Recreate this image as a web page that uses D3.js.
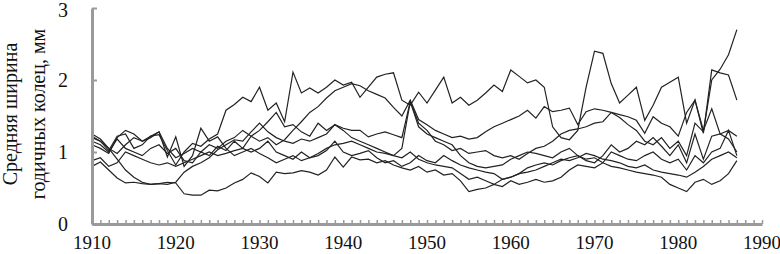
<!DOCTYPE html>
<html>
<head>
<meta charset="utf-8">
<script src="https://cdn.jsdelivr.net/npm/d3@7"></script>
<style>
  body { margin: 0; background: #fff; }
</style>
</head>
<body>
<div id="chart"></div>
<script>
const firstYear = 1910;
const xTicks = [1910, 1920, 1930, 1940, 1950, 1960, 1970, 1980, 1990];
const yTicks = [0, 1, 2, 3];
const yTitle = ['Средняя ширина', 'годичных колец, мм'];

// annual values 1910..1987, one array per site
const seriesA = [
  1.20, 1.15, 1.02, 1.22, 1.25, 1.05, 1.10, 1.22, 1.24, 1.02,
  0.82, 1.00, 1.12, 1.08, 1.18, 1.25, 1.58, 1.66, 1.76, 1.70,
  1.90, 1.58, 1.68, 1.42, 2.11, 1.82, 1.89, 1.82, 1.90, 2.00,
  1.93, 1.97, 1.76, 1.90, 2.04, 2.08, 2.10, 1.72, 1.65, 1.83,
  1.68, 1.86, 2.04, 1.68, 1.76, 1.65, 1.72, 1.82, 1.93, 1.84,
  2.14, 2.05, 1.96, 2.00, 1.90, 1.35, 1.20, 1.17, 1.30, 1.90,
  2.40, 2.37, 1.95, 1.68, 1.79, 1.90, 1.44, 1.65, 1.90, 1.97,
  2.04, 1.40, 1.72, 1.26, 2.14, 2.10, 2.07, 1.72
];
const seriesB = [
  1.25, 1.18, 1.05, 0.98, 1.10, 1.20, 1.15, 1.22, 1.28, 1.05,
  0.92, 0.98, 1.05, 1.00, 1.10, 1.05, 1.15, 1.20, 1.30, 1.22,
  1.15, 1.20, 1.10, 1.17, 1.30, 1.42, 1.55, 1.63, 1.75, 1.85,
  1.90, 1.95, 1.92, 1.85, 1.80, 1.75, 1.62, 1.50, 1.72, 1.45,
  1.38, 1.30, 1.25, 1.20, 1.22, 1.18, 1.20, 1.28, 1.35, 1.40,
  1.45, 1.50, 1.58, 1.47, 1.63, 1.56, 1.58, 1.61, 1.38, 1.56,
  1.60, 1.58, 1.55, 1.52, 1.49, 1.44, 1.26, 1.49, 1.40, 1.35,
  1.22, 1.55, 1.72, 1.30, 1.60, 1.25, 1.30, 1.22
];
const seriesC = [
  1.15, 1.10, 1.00, 1.18, 1.05, 1.00, 0.95, 1.05, 1.10, 0.98,
  1.05, 0.88, 0.85, 1.00, 0.95, 1.08, 1.02, 1.15, 1.05, 1.22,
  1.30, 1.42, 1.55, 1.35, 1.38, 1.28, 1.22, 1.40, 1.30, 1.38,
  1.33, 1.30, 1.30, 1.21, 1.25, 1.28, 1.24, 1.20, 1.70, 1.40,
  1.30, 1.15, 1.10, 1.02, 1.05, 0.98, 1.00, 1.02, 0.95, 0.92,
  0.95, 0.90, 0.98, 1.05, 1.08, 1.15, 1.25, 1.30, 1.32, 1.35,
  1.40, 1.42, 1.55, 1.48, 1.38, 1.30, 1.15, 1.10, 1.20, 1.05,
  1.15, 0.95, 1.40, 1.28, 2.00, 2.15, 2.35, 2.70
];
const seriesD = [
  0.88, 0.92, 0.80, 0.85, 1.00, 0.95, 0.90, 0.85, 0.82, 0.85,
  0.80, 0.85, 0.90, 0.95, 1.00, 0.95, 0.98, 1.02, 1.05, 1.00,
  1.05, 1.15, 1.00, 0.95, 0.90, 1.00, 0.92, 0.95, 1.02, 1.15,
  1.00, 0.95, 0.98, 1.02, 0.92, 0.85, 0.88, 0.80, 0.85, 0.95,
  0.88, 0.85, 0.95, 0.88, 0.82, 0.78, 0.75, 0.72, 0.70, 0.62,
  0.65, 0.70, 0.72, 0.75, 0.80, 0.85, 0.90, 0.88, 0.92, 0.98,
  0.95, 0.90, 0.88, 0.85, 0.80, 0.78, 0.82, 0.75, 0.72, 0.70,
  0.68, 0.65, 0.72, 0.80, 0.90, 0.95, 1.00, 0.92
];
const seriesE = [
  1.22, 1.15, 1.05, 0.90, 0.75, 0.65, 0.58, 0.55, 0.56, 0.55,
  0.58, 0.72, 0.80, 0.85, 0.92, 1.03, 1.10, 1.17, 1.15, 1.28,
  1.40, 1.28, 1.20, 1.15, 1.12, 1.18, 1.15, 1.20, 1.25, 1.38,
  1.30, 1.20, 1.15, 1.10, 1.05, 1.00, 0.95, 1.05, 1.70, 1.35,
  1.25, 1.20, 1.15, 1.10, 0.95, 0.85, 0.80, 0.78, 0.80, 0.82,
  0.90, 0.95, 1.00, 0.98, 0.95, 0.92, 1.00, 1.05, 0.95, 0.88,
  0.85, 0.95, 1.10, 1.00, 1.05, 1.15, 1.10, 1.20, 1.08, 0.95,
  1.10, 0.85, 1.25, 0.90, 1.22, 1.25, 1.18, 1.00
];
const seriesF = [
  0.80, 0.86, 0.75, 0.64, 0.57, 0.58, 0.56, 0.55, 0.56, 0.58,
  0.57, 0.42, 0.40, 0.40, 0.47, 0.46, 0.50, 0.57, 0.62, 0.71,
  0.66, 0.57, 0.72, 0.70, 0.71, 0.74, 0.72, 0.68, 0.75, 0.93,
  0.79, 0.93, 0.89, 0.90, 0.85, 0.88, 0.82, 0.78, 0.75, 0.80,
  0.72, 0.75, 0.68, 0.70, 0.60, 0.45, 0.48, 0.50, 0.55, 0.52,
  0.60, 0.55, 0.58, 0.62, 0.58, 0.60, 0.65, 0.75, 0.82, 0.80,
  0.78, 0.85, 0.80, 0.78, 0.75, 0.72, 0.70, 0.68, 0.65, 0.55,
  0.50, 0.45, 0.58, 0.62, 0.55, 0.60, 0.70, 0.88
];
const seriesG = [
  1.10, 1.05, 0.98, 1.20, 1.30, 1.25, 1.15, 1.20, 1.28, 0.93,
  1.21, 0.80, 0.95, 1.33, 1.15, 1.21, 1.05, 0.95, 1.00, 1.05,
  0.98, 0.92, 0.85, 0.90, 0.95, 0.88, 0.92, 0.98, 1.05, 1.10,
  1.12, 1.15, 1.10, 1.05, 1.00, 0.98, 0.95, 0.92, 1.00, 0.90,
  0.85, 0.82, 0.80, 0.78, 0.70, 0.62, 0.65, 0.60, 0.55, 0.62,
  0.65, 0.70, 0.78, 0.82, 0.85, 0.82, 0.88, 0.92, 0.95, 0.90,
  0.92, 0.85, 1.00, 0.95, 0.90, 0.88, 0.95, 1.00, 0.90, 0.85,
  0.90, 0.75, 0.95, 0.85, 1.00, 1.05, 1.30, 0.95
];
const allSeries = [seriesA, seriesB, seriesC, seriesD, seriesE, seriesF, seriesG];

const width = 780;
const height = 254;
const margin = { left: 92, right: 18, top: 8, bottom: 30 };
const fontFamily = '"Liberation Serif", "Times New Roman", "DejaVu Serif", serif';

const svg = d3.select('#chart')
  .append('svg')
  .attr('width', width)
  .attr('height', height)
  .attr('font-family', fontFamily);

const x = d3.scaleLinear()
  .domain([1910, 1990])
  .range([margin.left, width - margin.right]);

const y = d3.scaleLinear()
  .domain([0, 3])
  .range([height - margin.bottom, margin.top]);

// lines
const line = d3.line()
  .x((d, i) => x(firstYear + i))
  .y((d) => y(d));

svg.append('g')
  .selectAll('path')
  .data(allSeries)
  .enter()
  .append('path')
  .attr('d', line)
  .attr('fill', 'none')
  .attr('stroke', '#222')
  .attr('stroke-width', 1.2);

// x axis: grey bar with a small tick every year
const axisColor = '#9a9a9a';
const xAxis = svg.append('g')
  .attr('transform', `translate(0,${y(0)})`)
  .call(d3.axisBottom(x).tickValues(d3.range(1910, 1991)).tickSizeInner(-4).tickSizeOuter(0).tickFormat(''));
xAxis.select('.domain').attr('stroke', axisColor).attr('stroke-width', 3);
xAxis.selectAll('.tick line').attr('stroke', axisColor).attr('stroke-width', 1.5);

svg.append('g')
  .selectAll('text')
  .data(xTicks)
  .enter()
  .append('text')
  .attr('x', (d) => x(d))
  .attr('y', height - 5)
  .attr('text-anchor', 'middle')
  .attr('font-size', 19)
  .attr('fill', '#111')
  .text((d) => d);

// y axis
const yAxis = svg.append('g')
  .attr('transform', `translate(${margin.left},0)`)
  .call(d3.axisLeft(y).tickValues(yTicks).tickSizeInner(-5).tickSizeOuter(0).tickFormat(''));
yAxis.select('.domain').attr('stroke', axisColor).attr('stroke-width', 3);
yAxis.selectAll('.tick line').attr('stroke', axisColor).attr('stroke-width', 2);

svg.append('g')
  .selectAll('text')
  .data(yTicks)
  .enter()
  .append('text')
  .attr('x', 68)
  .attr('y', (d) => Math.max(y(d), 10))
  .attr('dy', '0.35em')
  .attr('text-anchor', 'end')
  .attr('font-size', 20)
  .attr('fill', '#111')
  .text((d) => d);

// y title, two lines
svg.append('g')
  .selectAll('text')
  .data(yTitle)
  .enter()
  .append('text')
  .attr('transform', (d, i) => `translate(${i === 0 ? 17 : 45},114) rotate(-90)`)
  .attr('text-anchor', 'middle')
  .attr('font-size', 20)
  .attr('fill', '#111')
  .text((d) => d);
</script>
</body>
</html>
